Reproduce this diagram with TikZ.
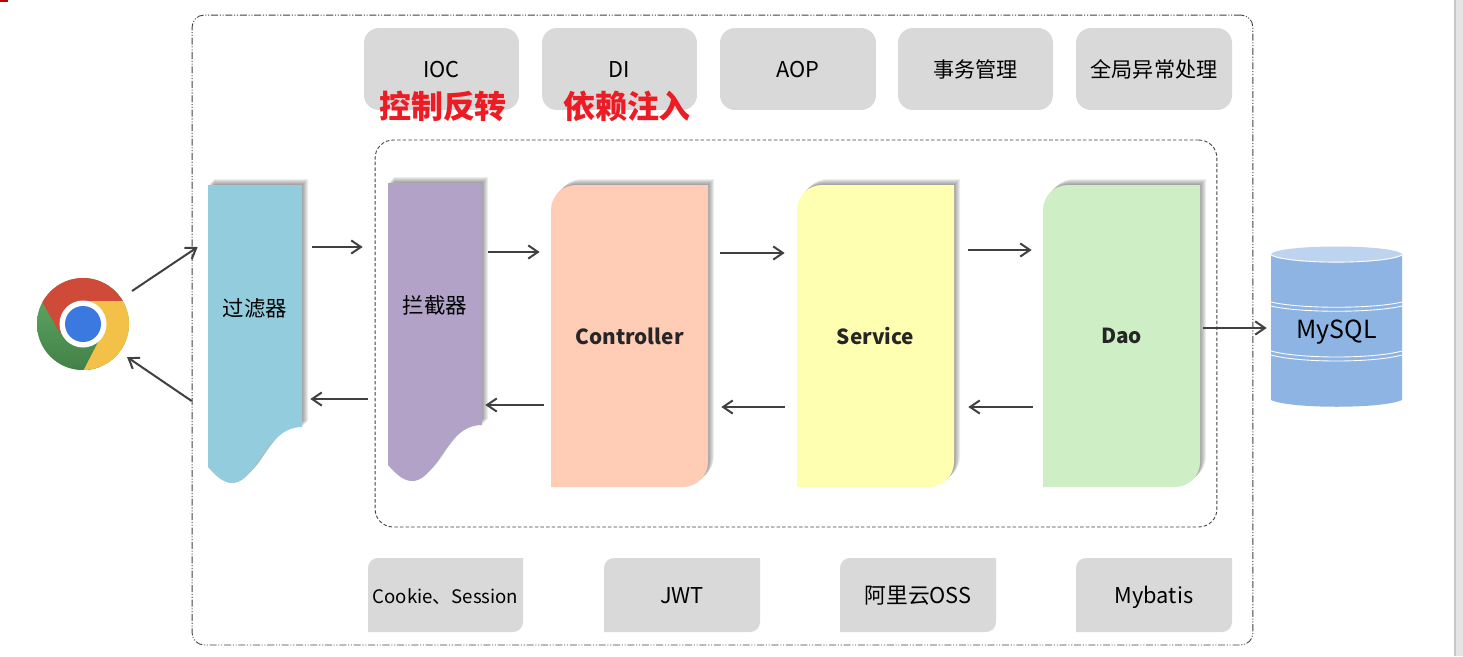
\documentclass[tikz,border=0pt]{standalone}
\usepackage{xcolor}
\usepackage{fontspec}
\setmainfont{Noto Sans CJK SC}
\usetikzlibrary{positioning,arrows.meta,calc}
\definecolor{cgrid}{RGB}{217,217,217}
\definecolor{cline}{RGB}{64,64,64}
\definecolor{cred}{RGB}{237,28,36}
\definecolor{cflt}{RGB}{147,205,221}
\definecolor{citc}{RGB}{178,162,199}
\definecolor{cctrl}{RGB}{255,204,181}
\definecolor{csvc}{RGB}{255,255,178}
\definecolor{cdao}{RGB}{206,239,198}
\definecolor{cdb}{RGB}{142,180,227}
\definecolor{cdbtop}{RGB}{189,211,238}
\definecolor{cscroll}{RGB}{228,228,228}
\definecolor{cchred}{RGB}{207,74,56}
\definecolor{cchyel}{RGB}{243,193,72}
\definecolor{cchgrn}{RGB}{82,159,88}
\definecolor{cchblu}{RGB}{59,120,224}
\newcommand{\softshadow}[1]{%
  \foreach \d in {1,...,6} {\fill[black,opacity=.07,shift={(\d,-\d)}] #1;}}
\newcommand{\cardshape}[5]{%
  \softshadow{(#1,#4) [rounded corners=.5cm] -- (#1,#2) [sharp corners] -- (#3,#2) [rounded corners=.5cm] -- (#3,#4) [sharp corners] -- cycle}
  \fill[#5] (#1,#4) [rounded corners=.5cm] -- (#1,#2) [sharp corners] -- (#3,#2) [rounded corners=.5cm] -- (#3,#4) [sharp corners] -- cycle;}
\newcommand{\waveshape}[3]{%
  \begin{scope}[shift={(#1,#2)}]
  \softshadow{(0,0) -- (94,0) -- (94,242) .. controls (72,242) and (60,262) .. (47,281) .. controls (38,293) and (32,298) .. (24,298) .. controls (15,298) and (7,290) .. (0,282) -- cycle}
  \fill[#3] (0,0) -- (94,0) -- (94,242) .. controls (72,242) and (60,262) .. (47,281) .. controls (38,293) and (32,298) .. (24,298) .. controls (15,298) and (7,290) .. (0,282) -- cycle;
  \end{scope}}
\newcommand{\snipshape}[2]{%
  \fill[cgrid] (#1,632) [rounded corners=.2cm] -- (#1,558) [sharp corners] -- (#2,558) [rounded corners=.2cm] -- (#2,632) [sharp corners] -- cycle;}

\begin{document}
\begin{tikzpicture}[x=.02cm,y=-.02cm,
  topbox/.style={fill=cgrid, rounded corners=.3cm, inner sep=0pt, minimum width=3.1cm, minimum height=1.64cm, text height=11.2pt, text depth=2pt, font=\fontsize{12.4pt}{14pt}\selectfont},
  snipbox/.style={inner sep=0pt, minimum width=3.1cm, minimum height=1.48cm, text height=11.2pt, text depth=2pt, font=\fontsize{12.4pt}{14pt}\selectfont},
  wavebox/.style={inner sep=0pt, minimum width=1.88cm, font=\fontsize{12.2pt}{14pt}\selectfont},
  layerbox/.style={inner sep=0pt, minimum width=3.14cm, minimum height=6.04cm, text=black!85, font=\fontsize{11.8pt}{14pt}\selectfont\bfseries},
  redtag/.style={inner sep=0pt, text=cred, font=\fontsize{18.2pt}{20pt}\selectfont\bfseries},
  ar/.style={draw=cline, line width=.04cm, -{Straight Barb[length=5.5pt,width=7.5pt]}}]
\useasboundingbox (0,0) rectangle (1463,656);
\fill[red!75!black] (0,0) rectangle (8,2);
\fill[cscroll] (1454,0) rectangle (1463,656);
\fill[black!22] (1454,0) rectangle (1455.5,656);

\node[draw=black!75, line width=.5pt, rounded corners=.24cm, inner sep=0pt, minimum width=21.22cm, minimum height=12.6cm,
  dash pattern=on 4pt off 1pt on .6pt off 1pt on .6pt off 1pt] (app) at (722.5,330) {};
\node[draw=black!75, line width=.5pt, rounded corners=.36cm, inner sep=0pt, minimum width=16.84cm, minimum height=7.74cm,
  dash pattern=on 2pt off 1.2pt] (mvc) at (796,333.5) {};

\node[topbox] (ioc)  at (441.5,69) {IOC};
\node[topbox] (di)   at (619.5,69) {DI};
\node[topbox, minimum width=3.12cm] (aop) at (798,69) {AOP};
\node[topbox, font=\fontsize{12pt}{14pt}\selectfont] (tx) at (975.5,69) {事务管理};
\node[topbox, minimum width=3.12cm, font=\fontsize{12pt}{14pt}\selectfont] (ex) at (1154,69) {全局异常处理};
\node[redtag] (iocz) at (443,106)  {控制反转};
\node[redtag] (diz)  at (627,106)  {依赖注入};

\waveshape{208}{185}{cflt}
\waveshape{388}{183}{citc}
\cardshape{551}{185}{708}{487}{cctrl}
\cardshape{797}{185}{954}{487}{csvc}
\cardshape{1043}{185}{1200}{487}{cdao}
\node[wavebox, minimum height=4.92cm] (flt) at (255,308) {过滤器};
\node[wavebox, minimum height=4.88cm] (itc) at (435,305) {拦截器};
\node[layerbox] (ctrl) at (629.5,336) {Controller};
\node[layerbox] (svc)  at (875.5,336) {Service};
\node[layerbox] (dao)  at (1121.5,336) {Dao};

\snipshape{368}{523}
\snipshape{604}{760}
\snipshape{840}{996}
\snipshape{1076}{1232}
\node[snipbox, font=\fontsize{10.6pt}{12pt}\selectfont] (cookie) at (445.5,595) {Cookie、Session};
\node[snipbox] (jwt) at (682,595)  {JWT};
\node[snipbox] (oss) at (918,595)  {阿里云OSS};
\node[snipbox] (mb)  at (1154,595) {Mybatis};

\fill[cdb] (1271,254) -- (1271,400) .. controls (1290,409) and (1383,409) .. (1402,400) -- (1402,254) -- cycle;
\draw[white, line width=.5pt] (1271,302) .. controls (1300,309) and (1373,309) .. (1402,302);
\draw[white, line width=.5pt] (1271,306) .. controls (1300,313) and (1373,313) .. (1402,306);
\draw[white, line width=.5pt] (1271,351) .. controls (1300,359) and (1373,359) .. (1402,351);
\draw[white, line width=.5pt] (1271,355) .. controls (1300,363) and (1373,363) .. (1402,355);
\fill[cdbtop] (1336.5,254.5) ellipse [x radius=65.5, y radius=8];
\draw[white, line width=.5pt] (1271,255) .. controls (1290,264.5) and (1383,264.5) .. (1402,255);
\node[inner sep=0pt, minimum width=2.62cm, minimum height=3.2cm, font=\fontsize{14.2pt}{16pt}\selectfont] (db) at (1336.5,332.5) {MySQL};

\node[circle, fill=cchgrn, inner sep=0pt, minimum size=1.84cm] (chrome) at (83,324) {};
\begin{scope}
\clip (83,324) circle [radius=46];
\shade[top color=cchgrn!95!white, bottom color=cchgrn!80!black] (36,300) rectangle (100,372);
\fill[cchred] (60,333) -- (25,272) -- (25,270) -- (140,270) -- (140,301) -- (83,301) -- cycle;
\fill[cchyel] (83,301) -- (140,301) -- (140,387) -- (75,387) -- (101.7,335) -- cycle;
\end{scope}
\fill[white] (83,324) circle [radius=23.5];
\fill[cchblu] (83,324) circle [radius=18];

\draw[ar] ([shift={(49,-33)}]chrome.center) -- ([xshift=-.2cm]flt.west |- 0,247);
\draw[ar] ([xshift=-.32cm]flt.west |- 0,401) -- ([shift={(44,33)}]chrome.center);
\draw[ar, shorten <=.2cm, shorten >=.5cm] (flt.east |- 0,247) -- (itc.west |- 0,247);
\draw[ar, shorten <=.4cm, shorten >=.16cm] (itc.west |- 0,399) -- (flt.east |- 0,399);
\draw[ar, shorten <=.12cm, shorten >=.22cm] (itc.east |- 0,252) -- (ctrl.west |- 0,252);
\draw[ar, shorten <=.14cm, shorten >=.06cm] (ctrl.west |- 0,405) -- (itc.east |- 0,405);
\draw[ar, shorten <=.24cm, shorten >=.24cm] (ctrl.east |- 0,253) -- (svc.west |- 0,253);
\draw[ar, shorten <=.24cm, shorten >=.26cm] (svc.west |- 0,407) -- (ctrl.east |- 0,407);
\draw[ar, shorten <=.28cm, shorten >=.22cm] (svc.east |- 0,250) -- (dao.west |- 0,250);
\draw[ar, shorten <=.2cm, shorten >=.28cm] (dao.west |- 0,407) -- (svc.east |- 0,407);
\draw[ar, shorten <=.06cm, shorten >=.08cm] (dao.east |- 0,328) -- (db.west |- 0,328);
\end{tikzpicture}
\end{document}
